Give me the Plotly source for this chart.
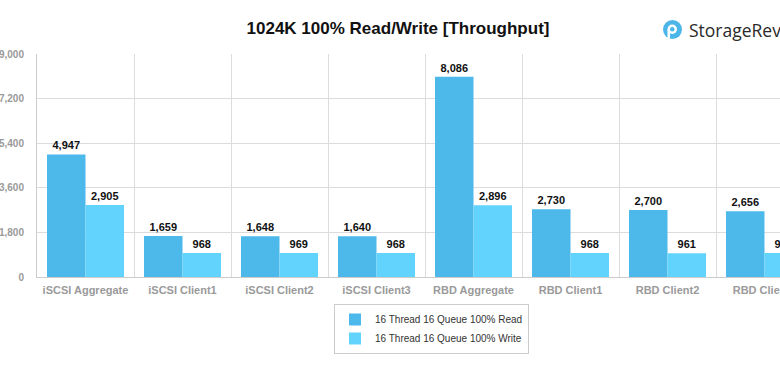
import plotly.graph_objects as go

categories = ["iSCSI Aggregate", "iSCSI Client1", "iSCSI Client2", "iSCSI Client3",
              "RBD Aggregate", "RBD Client1", "RBD Client2", "RBD Client3"]
read_values = [4947, 1659, 1648, 1640, 8086, 2730, 2700, 2656]
write_values = [2905, 968, 969, 968, 2896, 968, 961, 968]
series_names = ["16 Thread 16 Queue 100% Read", "16 Thread 16 Queue 100% Write"]
y_ticks = [0, 1800, 3600, 5400, 7200, 9000]

W, H = 780, 368
ML, MR, MT, MB = 37, 0, 54, 91
PW, PH = W - ML - MR, H - MT - MB


def px_x(x):
    return (x - ML) / PW


def px_y(y):
    return (H - MB - y) / PH


READ_C = "#4db8ea"
WRITE_C = "#62d3fc"
label_font = dict(family="Liberation Sans, Arial, sans-serif", size=11, color="#111111", weight="bold")

fig = go.Figure()
fig.add_trace(go.Bar(x=categories, y=read_values, name=series_names[0], marker_color=READ_C,
                     marker_line_width=0, texttemplate="%{y:,}", textposition="outside",
                     textfont=label_font, constraintext="none", cliponaxis=True))
fig.add_trace(go.Bar(x=categories, y=write_values, name=series_names[1], marker_color=WRITE_C,
                     marker_line_width=0, texttemplate="%{y:,}", textposition="outside",
                     textfont=label_font, constraintext="none", cliponaxis=True))

fig.update_layout(
    width=W, height=H,
    margin=dict(l=ML, r=MR, t=MT, b=MB, pad=0, autoexpand=False),
    paper_bgcolor="white", plot_bgcolor="white",
    barmode="group", bargap=0.206, bargroupgap=0,
    font=dict(family="Liberation Sans, Arial, sans-serif"),
    title=dict(text="<b>1024K 100% Read/Write [Throughput]</b>", x=398 / W, xanchor="center",
               xref="container", y=1 - 28 / H, yanchor="middle", yref="container",
               font=dict(size=17, color="#111111")),
    showlegend=True,
    legend=dict(x=px_x(334), xanchor="left", y=px_y(304), yanchor="top",
                bordercolor="#cccccc", borderwidth=1, bgcolor="white",
                font=dict(size=10, color="#333333"), tracegroupgap=0,
                itemclick=False),
    xaxis=dict(range=[-0.5, -0.5 + PW / 97.0], tickson="boundaries", showgrid=True,
               gridcolor="#dcdcdc", gridwidth=1, showline=True, linecolor="#cccccc",
               ticks="", ticklabelstandoff=3, tickangle=0, automargin=False,
               tickfont=dict(size=11, color="#9a9a9a", weight="bold")),
    yaxis=dict(range=[0, 9000], tickvals=y_ticks, tickformat=",", showgrid=True,
               gridcolor="#dcdcdc", gridwidth=1, showline=True, linecolor="#cccccc",
               zeroline=False, ticks="", ticklabelstandoff=10, automargin=False,
               tickfont=dict(size=10, color="#9a9a9a", weight="bold")),
)

# StorageReview logo (cut off at the right edge, as in the reference)
fig.add_shape(type="circle", xref="paper", yref="paper", layer="above",
              x0=px_x(663), x1=px_x(682), y0=px_y(39), y1=px_y(20),
              fillcolor="#4cb6e8", line_width=0)
fig.add_shape(type="circle", xref="paper", yref="paper", layer="above",
              x0=px_x(667.5), x1=px_x(677), y0=px_y(34), y1=px_y(24.5),
              fillcolor="white", line_width=0)
fig.add_shape(type="circle", xref="paper", yref="paper", layer="above",
              x0=px_x(670), x1=px_x(674.5), y0=px_y(31.5), y1=px_y(27),
              fillcolor="#4cb6e8", line_width=0)
fig.add_shape(type="rect", xref="paper", yref="paper", layer="above",
              x0=px_x(667.5), x1=px_x(670), y0=px_y(38), y1=px_y(30),
              fillcolor="white", line_width=0)
fig.add_annotation(text="StorageReview", xref="paper", yref="paper",
                   x=px_x(687), xanchor="left", y=px_y(30), yanchor="middle",
                   showarrow=False, font=dict(family="Open Sans, sans-serif", size=17.5, color="#2a2a2a"))

fig.write_html("out.html", config={"displayModeBar": False},
               post_script="document.body.style.margin='0';document.body.style.overflow='hidden';")
